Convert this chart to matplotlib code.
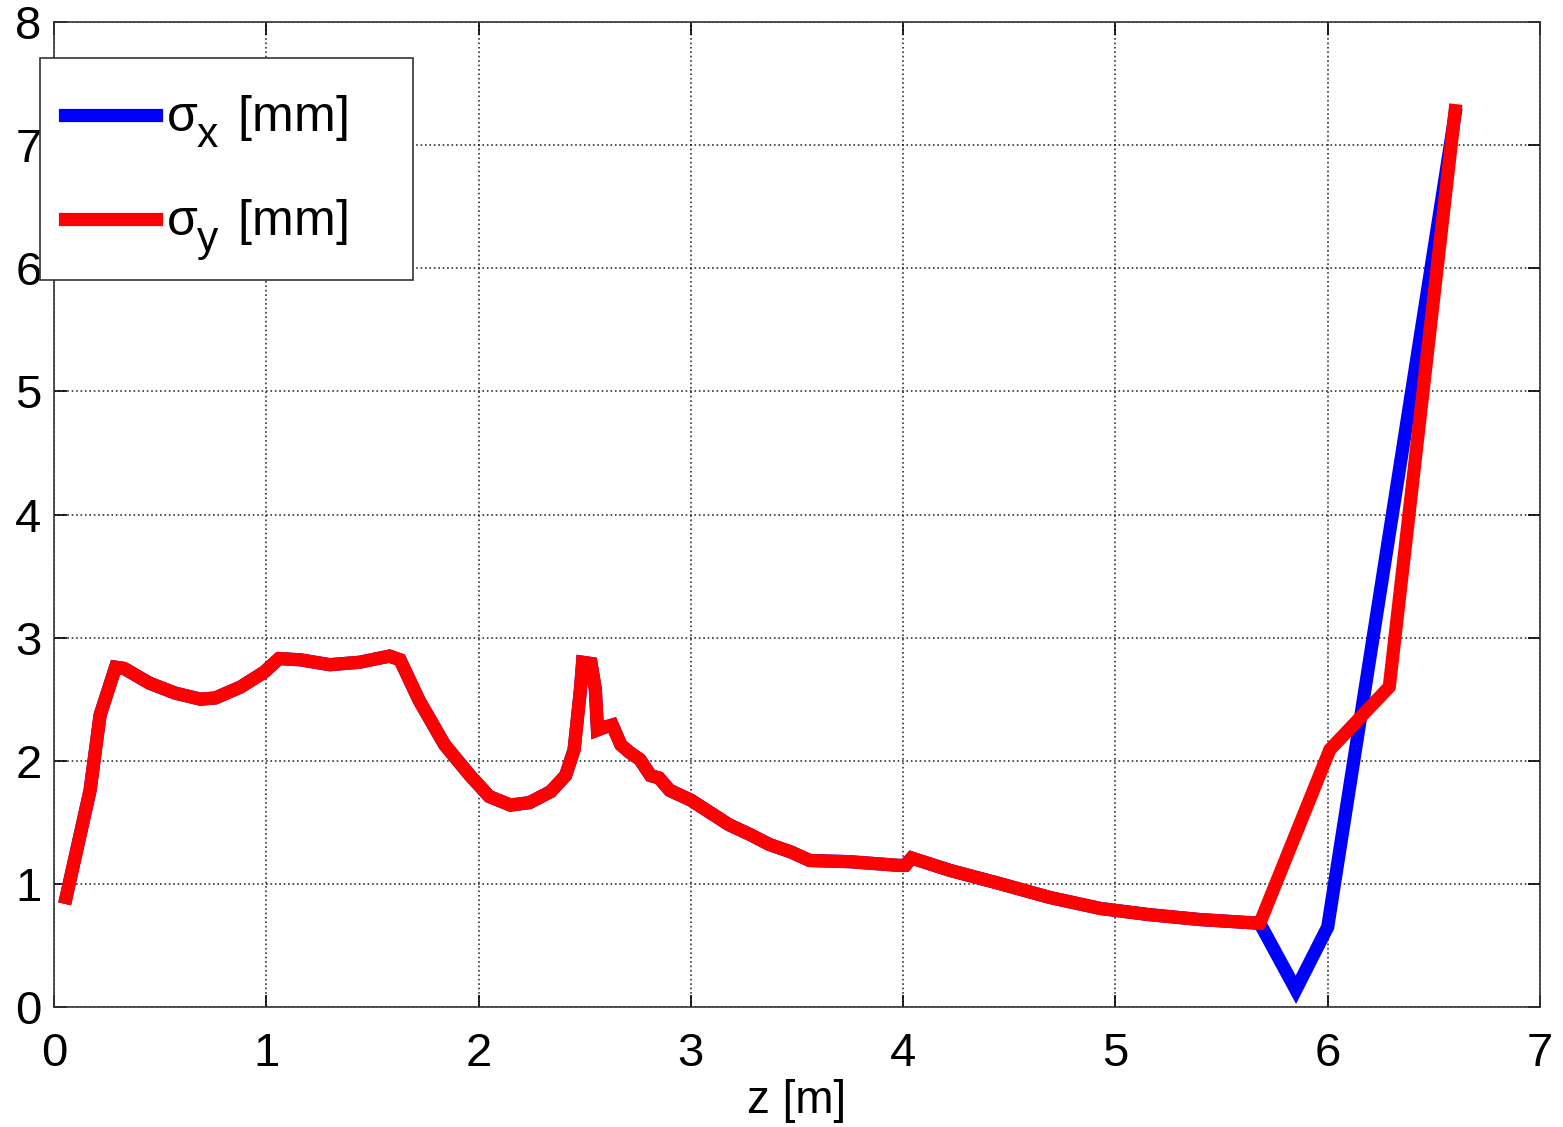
import matplotlib
matplotlib.use("Agg")
import matplotlib.pyplot as plt
from matplotlib.patches import Rectangle

plt.rcParams['font.family'] = ['Liberation Sans', 'DejaVu Sans']
plt.rcParams['mathtext.fontset'] = 'custom'
plt.rcParams['mathtext.rm'] = 'Liberation Sans'
plt.rcParams['mathtext.it'] = 'Liberation Sans'

# bigger, lower subscripts like the original figure
try:
    import matplotlib._mathtext as mt
    mt.SHRINK_FACTOR = 0.85
    mt.FontConstantsBase.sub1 = 0.6
    mt.FontConstantsBase.sub2 = 0.75
except Exception:
    pass

# beam size along the line, both planes share the first part
z_common = [0.057, 0.17, 0.217, 0.29, 0.33, 0.45, 0.57, 0.69, 0.76, 0.88, 0.99,
            1.06, 1.16, 1.30, 1.44, 1.58, 1.63, 1.72, 1.84, 1.96, 2.05, 2.15,
            2.24, 2.34, 2.41, 2.45, 2.48, 2.49, 2.53, 2.55, 2.56, 2.59, 2.63,
            2.67, 2.71, 2.76, 2.81, 2.85, 2.90, 3.00, 3.09, 3.18, 3.28, 3.37,
            3.47, 3.56, 3.75, 3.98, 4.01, 4.04, 4.22, 4.46, 4.69, 4.93, 5.16,
            5.40, 5.68]
s_common = [0.89, 1.76, 2.37, 2.76, 2.75, 2.63, 2.55, 2.50, 2.51, 2.60, 2.72,
            2.83, 2.82, 2.78, 2.80, 2.85, 2.82, 2.49, 2.13, 1.88, 1.71, 1.64,
            1.66, 1.75, 1.88, 2.09, 2.58, 2.80, 2.79, 2.58, 2.25, 2.27, 2.29,
            2.13, 2.07, 2.01, 1.88, 1.86, 1.76, 1.68, 1.58, 1.48, 1.40, 1.32,
            1.26, 1.19, 1.18, 1.15, 1.15, 1.21, 1.11, 1.00, 0.89, 0.80, 0.75,
            0.71, 0.68]

z_x_tail = [5.85, 6.00, 6.60]
sx_tail = [0.14, 0.65, 7.25]
z_y_tail = [6.01, 6.29, 6.60]
sy_tail = [2.09, 2.60, 7.28]

z_x = z_common + z_x_tail
sigma_x = s_common + sx_tail
z_y = z_common + z_y_tail
sigma_y = s_common + sy_tail

W, H = 1563, 1127
fig = plt.figure(figsize=(W / 100, H / 100), dpi=100)
ax = fig.add_axes([54 / W, 1 - 1007 / H, (1540 - 54) / W, (1007 - 22) / H])

ax.plot(z_x, sigma_x, color='#0000ff', lw=9.5, solid_joinstyle='miter',
        label=r'$\sigma_x\;\,$[mm]')
ax.plot(z_y, sigma_y, color='#ff0000', lw=9.5, solid_joinstyle='miter',
        label=r'$\sigma_y\;\,$[mm]')

ax.set_xlim(0, 7)
ax.set_ylim(0, 8)
ax.set_xticks(range(8))
ax.set_yticks(range(9))
ax.tick_params(direction='in', length=9, width=1.2, labelsize=34,
               top=True, right=True)
ax.tick_params(axis='x', pad=18)
ax.tick_params(axis='y', pad=9)
ax.grid(True, linestyle=':', color='black', lw=1.2, alpha=0.8)
for sp in ax.spines.values():
    sp.set_linewidth(1.2)
    sp.set_color('#333333')

ax.set_xlabel('z [m]', fontsize=33, labelpad=2)

# legend box drawn by hand so it can be wider than its contents
box = Rectangle((40 / W, 1 - 280 / H), (413 - 40) / W, (280 - 58) / H,
                transform=fig.transFigure, facecolor='white',
                edgecolor='#333333', lw=1.2, zorder=4.9, clip_on=False)
ax.add_patch(box)

leg = ax.legend(loc='upper left', bbox_to_anchor=(40 / W, 1 - 69 / H),
                bbox_transform=fig.transFigure, borderaxespad=0,
                fontsize=36, handlelength=1.82, labelspacing=0.95,
                frameon=False, borderpad=0.5, handletextpad=0.2)

fig.savefig('out.png', dpi=100)
